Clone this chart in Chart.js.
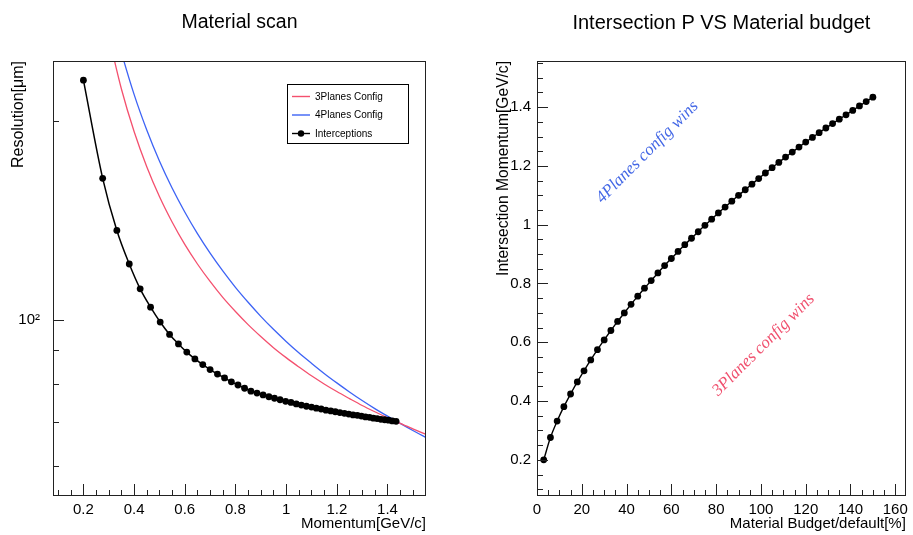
<!DOCTYPE html>
<html>
<head>
<meta charset="utf-8">
<script src="https://cdn.jsdelivr.net/npm/chart.js@4.4.1/dist/chart.umd.min.js"></script>
<style>
  html, body { margin: 0; padding: 0; background: #fff; }
  #wrap { position: relative; width: 913px; height: 535px; }
  canvas { position: absolute; top: 0; }
</style>
</head>
<body>
<div id="wrap">
  <canvas id="scan" width="456" height="535" style="left:0"></canvas>
  <canvas id="budget" width="457" height="535" style="left:456px"></canvas>
</div>
<script>
// material budget scan points (% of default)
const budget = [3, 6, 9, 12, 15, 18, 21, 24, 27, 30, 33, 36, 39, 42, 45, 48, 51, 54, 57, 60,
  63, 66, 69, 72, 75, 78, 81, 84, 87, 90, 93, 96, 99, 102, 105, 108, 111, 114, 117, 120,
  123, 126, 129, 132, 135, 138, 141, 144, 147, 150]

// momentum where 3 and 4 planes give the same resolution
const crossMomentum = [0.200, 0.276, 0.332, 0.381, 0.424, 0.465, 0.503, 0.540, 0.575, 0.608,
  0.640, 0.671, 0.700, 0.729, 0.757, 0.784, 0.810, 0.836, 0.861, 0.885,
  0.909, 0.932, 0.954, 0.976, 0.998, 1.019, 1.040, 1.060, 1.080, 1.100,
  1.119, 1.138, 1.157, 1.176, 1.194, 1.212, 1.230, 1.247, 1.264, 1.281,
  1.297, 1.313, 1.329, 1.344, 1.359, 1.374, 1.389, 1.404, 1.419, 1.434]

// resolution at that crossing
const crossResolution = [231, 164, 136.7, 121.6, 111.5, 104.6, 99.3, 95.1, 92.0, 89.4,
  87.3, 85.6, 84.1, 82.8, 81.7, 80.6, 79.7, 78.8, 78.0, 77.5,
  77.0, 76.5, 76.1, 75.7, 75.3, 75.0, 74.6, 74.3, 74.0, 73.8,
  73.5, 73.3, 73.0, 72.8, 72.6, 72.4, 72.2, 72.0, 71.8, 71.7,
  71.5, 71.3, 71.2, 71.0, 70.9, 70.7, 70.6, 70.5, 70.3, 70.2]

// resolution curves vs momentum
const redMomentum = [0.30, 0.35, 0.40, 0.45, 0.50, 0.55, 0.60, 0.65, 0.70, 0.75, 0.80, 0.85, 0.90, 0.95,
  1.00, 1.05, 1.10, 1.15, 1.20, 1.25, 1.30, 1.35, 1.40, 1.45, 1.50, 1.56]
const redResolution = [269.2, 224.0, 193.1, 170.8, 153.9, 140.8, 130.2, 121.6, 114.4, 108.2, 103.0, 98.4, 94.4, 90.8,
  87.7, 84.9, 82.3, 80.0, 77.9, 76.0, 74.2, 72.6, 71.1, 69.7, 68.4, 66.9]
const blueMomentum = [0.33, 0.35, 0.40, 0.45, 0.50, 0.55, 0.60, 0.65, 0.70, 0.75, 0.80, 0.85, 0.90, 0.95,
  1.00, 1.05, 1.10, 1.15, 1.20, 1.25, 1.30, 1.35, 1.40, 1.45, 1.50, 1.56]
const blueResolution = [271.9, 254.5, 219.8, 194.1, 174.2, 158.5, 145.8, 135.2, 126.3, 118.7, 112.1, 106.4, 101.3, 96.8,
  92.8, 89.2, 86.0, 83.0, 80.3, 77.8, 75.5, 73.4, 71.5, 69.7, 68.0, 66.1]

// tick labels
const scanXLabels = [0.2, 0.4, 0.6, 0.8, 1, 1.2, 1.4]
const scanYLabels = [100]
const budgetXLabels = [0, 20, 40, 60, 80, 100, 120, 140, 160]
const budgetYLabels = [0.2, 0.4, 0.6, 0.8, 1, 1.2, 1.4]

const sans = '"Liberation Sans", Arial, sans-serif'
const red = '#f4506e'
const blue = '#3d63f5'

Chart.defaults.font.family = sans
Chart.defaults.color = '#000'

const pairs = (xs, ys) => xs.map((x, i) => ({ x, y: ys[i] }))
const fmt = v => String(Number(v.toFixed(2)))
const steps = (from, to, step) => {
  const out = []
  for (let v = from; v <= to + 1e-9; v += step) out.push(Number(v.toFixed(4)))
  return out
}

// ROOT-like frame with inward ticks
const rootAxes = {
  id: 'rootAxes',
  afterDatasetsDraw(chart, args, opts) {
    const { ctx, chartArea: a, scales } = chart
    ctx.save()
    ctx.strokeStyle = '#222'
    ctx.lineWidth = 1
    ctx.strokeRect(Math.round(a.left) + 0.5, Math.round(a.top) + 0.5,
      Math.round(a.right - a.left) - 1, Math.round(a.bottom - a.top) - 1)
    const tick = (scale, values, len, horiz) => values.forEach(v => {
      if (v < scale.min || v > scale.max) return
      const p = Math.round(scale.getPixelForValue(v)) + 0.5
      ctx.beginPath()
      if (horiz) {
        ctx.moveTo(p, a.bottom)
        ctx.lineTo(p, a.bottom - len)
      } else {
        ctx.moveTo(a.left, p)
        ctx.lineTo(a.left + len, p)
      }
      ctx.stroke()
    })
    tick(scales.x, opts.xMinor, 6, true)
    tick(scales.x, opts.xMajor, 12, true)
    tick(scales.y, opts.yMinor, 6, false)
    tick(scales.y, opts.yMajor, 11, false)
    ctx.restore()
  }
}

const legendBox = {
  id: 'legendBox',
  afterDraw(chart, args, opts) {
    if (!opts.show) return
    const { ctx } = chart
    const [x0, y0, w, h] = opts.box
    ctx.save()
    ctx.fillStyle = '#fff'
    ctx.fillRect(x0, y0, w, h)
    ctx.strokeStyle = '#000'
    ctx.lineWidth = 1
    ctx.strokeRect(x0 + 0.5, y0 + 0.5, w, h)
    ctx.font = '10px ' + sans
    ctx.textBaseline = 'middle'
    opts.order.forEach((di, i) => {
      const ds = chart.data.datasets[di]
      const y = y0 + 12.5 + i * 18.5
      ctx.strokeStyle = ds.borderColor
      ctx.lineWidth = 1.4
      ctx.beginPath()
      ctx.moveTo(x0 + 5, y)
      ctx.lineTo(x0 + 23, y)
      ctx.stroke()
      if (ds.pointRadius > 0) {
        ctx.fillStyle = ds.borderColor
        ctx.beginPath()
        ctx.arc(x0 + 14, y, 3.2, 0, Math.PI * 2)
        ctx.fill()
      }
      ctx.fillStyle = '#000'
      ctx.fillText(ds.label, x0 + 28, y + 0.5)
    })
    ctx.restore()
  }
}

const notes = {
  id: 'notes',
  afterDraw(chart, args, opts) {
    if (!opts.items) return
    const { ctx, scales } = chart
    ctx.save()
    ctx.font = 'italic 17px "Liberation Serif", "Times New Roman", serif'
    ctx.textAlign = 'center'
    ctx.textBaseline = 'middle'
    opts.items.forEach(n => {
      ctx.save()
      ctx.translate(scales.x.getPixelForValue(n.x), scales.y.getPixelForValue(n.y))
      ctx.rotate(-Math.PI / 4)
      ctx.fillStyle = n.color
      ctx.fillText(n.text, 0, 0)
      ctx.restore()
    })
    ctx.restore()
  }
}

const titleOpts = (text, size) => ({
  display: true, text, fullSize: false, color: '#000',
  font: { size, weight: 'normal' },
  padding: { top: 11, bottom: 61 - 11 - size * 1.2 }
})

const axisTitle = (text, size, pad) => ({
  display: true, text, align: 'end', color: '#000',
  font: { size }, padding: pad
})

new Chart(document.getElementById('scan'), {
  type: 'line',
  data: {
    datasets: [
      {
        label: 'Interceptions', data: pairs(crossMomentum, crossResolution),
        borderColor: '#000', backgroundColor: '#000', borderWidth: 1.5,
        pointRadius: 3.4, pointBackgroundColor: '#000', pointBorderWidth: 0,
        cubicInterpolationMode: 'monotone', order: 0
      },
      {
        label: '3Planes Config', data: pairs(redMomentum, redResolution),
        borderColor: red, borderWidth: 1.3, pointRadius: 0,
        cubicInterpolationMode: 'monotone', order: 1
      },
      {
        label: '4Planes Config', data: pairs(blueMomentum, blueResolution),
        borderColor: blue, borderWidth: 1.3, pointRadius: 0,
        cubicInterpolationMode: 'monotone', order: 2
      }
    ]
  },
  options: {
    responsive: false,
    animation: false,
    events: [],
    layout: { padding: { left: 0, right: 30, top: 0, bottom: 0 } },
    plugins: {
      legend: { display: false },
      tooltip: { enabled: false },
      title: titleOpts('Material scan', 19.5),
      rootAxes: {
        xMajor: scanXLabels, xMinor: steps(0.1, 1.55, 0.05),
        yMajor: scanYLabels, yMinor: [60, 70, 80, 90, 200]
      },
      legendBox: { show: true, box: [287, 84, 121, 59], order: [1, 2, 0] }
    },
    scales: {
      x: {
        type: 'linear', min: 0.08, max: 1.552,
        grid: { display: false, drawTicks: false }, border: { display: false },
        afterBuildTicks: s => { s.ticks = scanXLabels.map(value => ({ value })) },
        afterFit: s => { s.height = 39 },
        ticks: { padding: 5, font: { size: 15 }, maxRotation: 0, autoSkip: false, callback: v => fmt(v) },
        title: axisTitle('Momentum[GeV/c]', 15, { top: 0, bottom: 2 })
      },
      y: {
        type: 'logarithmic', min: 54.1, max: 247,
        grid: { display: false, drawTicks: false }, border: { display: false },
        afterBuildTicks: s => { s.ticks = scanYLabels.map(value => ({ value })) },
        afterFit: s => { s.width = 53 },
        ticks: { padding: 13, font: { size: 15 }, autoSkip: false, callback: () => '10²' },
        title: axisTitle('Resolution[μm]', 16, { top: 9, bottom: 0 })
      }
    }
  },
  plugins: [rootAxes, legendBox]
})

new Chart(document.getElementById('budget'), {
  type: 'line',
  data: {
    datasets: [{
      label: 'Intersection', data: pairs(budget, crossMomentum),
      borderColor: '#000', backgroundColor: '#000', borderWidth: 1.4,
      pointRadius: 3.4, pointBackgroundColor: '#000', pointBorderWidth: 0,
      cubicInterpolationMode: 'monotone'
    }]
  },
  options: {
    responsive: false,
    animation: false,
    events: [],
    layout: { padding: { left: 0, right: 5, top: 0, bottom: 0 } },
    plugins: {
      legend: { display: false },
      tooltip: { enabled: false },
      title: titleOpts('Intersection P VS Material budget', 20),
      rootAxes: {
        xMajor: budgetXLabels, xMinor: steps(0, 160, 5),
        yMajor: budgetYLabels, yMinor: steps(0.1, 1.55, 0.05)
      },
      notes: {
        items: [
          { text: '4Planes config wins', x: 49.3, y: 1.247, color: '#4468e6' },
          { text: '3Planes config wins', x: 101.2, y: 0.591, color: '#f0506e' }
        ]
      }
    },
    scales: {
      x: {
        type: 'linear', min: 0, max: 164.7,
        grid: { display: false, drawTicks: false }, border: { display: false },
        afterBuildTicks: s => { s.ticks = budgetXLabels.map(value => ({ value })) },
        afterFit: s => { s.height = 39 },
        ticks: { padding: 5, font: { size: 15 }, maxRotation: 0, autoSkip: false, callback: v => fmt(v) },
        title: axisTitle('Material Budget/default[%]', 15, { top: 0, bottom: 2 })
      },
      y: {
        type: 'linear', min: 0.077, max: 1.557,
        grid: { display: false, drawTicks: false }, border: { display: false },
        afterBuildTicks: s => { s.ticks = budgetYLabels.map(value => ({ value })) },
        afterFit: s => { s.width = 81 },
        ticks: { padding: 6, font: { size: 15 }, autoSkip: false, callback: v => fmt(v) },
        title: axisTitle('Intersection Momentum[GeV/c]', 15.6, { top: 38, bottom: 0 })
      }
    }
  },
  plugins: [rootAxes, notes]
})
</script>
</body>
</html>
